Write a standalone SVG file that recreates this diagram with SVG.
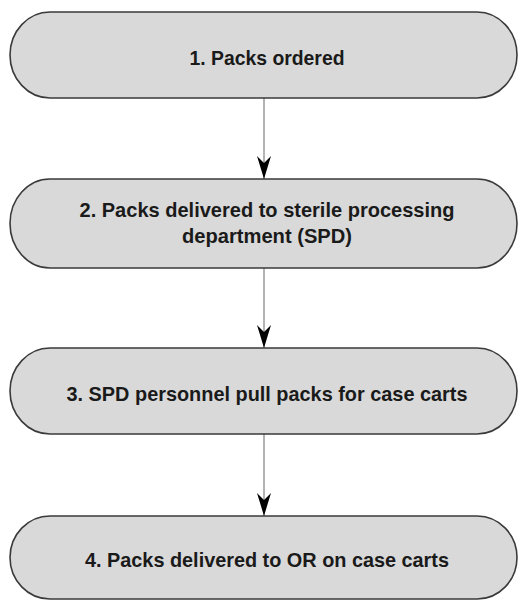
<svg xmlns="http://www.w3.org/2000/svg" width="519" height="600" viewBox="0 0 519 600">
  <style>
    .box { fill: #d9d9d9; stroke: #3a3a3a; stroke-width: 1.6; }
    .lbl { font-family: "Liberation Sans", Arial, sans-serif; font-weight: bold; font-size: 21px; fill: #1a1a1a; text-anchor: middle; }
    .conn { stroke: #8a8a8a; stroke-width: 1.3; fill: none; }
  </style>
  <defs>
    <marker id="arrow" markerUnits="userSpaceOnUse" markerWidth="26" markerHeight="16" viewBox="-24 -8 26 16" refX="0" refY="0" orient="auto">
      <path d="M0,0 L-23,-7 L-16,0 L-23,7 Z" fill="#000"/>
    </marker>
  </defs>
  <rect width="519" height="600" fill="#ffffff"/>
  <g id="connectors">
    <line class="conn" x1="264" y1="98" x2="264" y2="179" marker-end="url(#arrow)"/>
    <line class="conn" x1="264" y1="268" x2="264" y2="348" marker-end="url(#arrow)"/>
    <line class="conn" x1="264" y1="434" x2="264" y2="516" marker-end="url(#arrow)"/>
  </g>
  <g id="node1">
    <rect class="box" x="10" y="12" width="507" height="86" rx="40" ry="43"/>
    <text class="lbl" x="267" y="65" textLength="155" lengthAdjust="spacingAndGlyphs">1. Packs ordered</text>
  </g>
  <g id="node2">
    <rect class="box" x="10" y="179" width="507" height="89" rx="40" ry="44.5"/>
    <text class="lbl" x="267" y="217" textLength="375" lengthAdjust="spacingAndGlyphs">2. Packs delivered to sterile processing</text>
    <text class="lbl" x="267" y="243" textLength="170" lengthAdjust="spacingAndGlyphs">department (SPD)</text>
  </g>
  <g id="node3">
    <rect class="box" x="10" y="348" width="507" height="86" rx="40" ry="43"/>
    <text class="lbl" x="267" y="401" textLength="401" lengthAdjust="spacingAndGlyphs">3. SPD personnel pull packs for case carts</text>
  </g>
  <g id="node4">
    <rect class="box" x="10" y="516" width="507" height="83" rx="40" ry="41.5"/>
    <text class="lbl" x="267" y="567" textLength="364" lengthAdjust="spacingAndGlyphs">4. Packs delivered to OR on case carts</text>
  </g>
</svg>
